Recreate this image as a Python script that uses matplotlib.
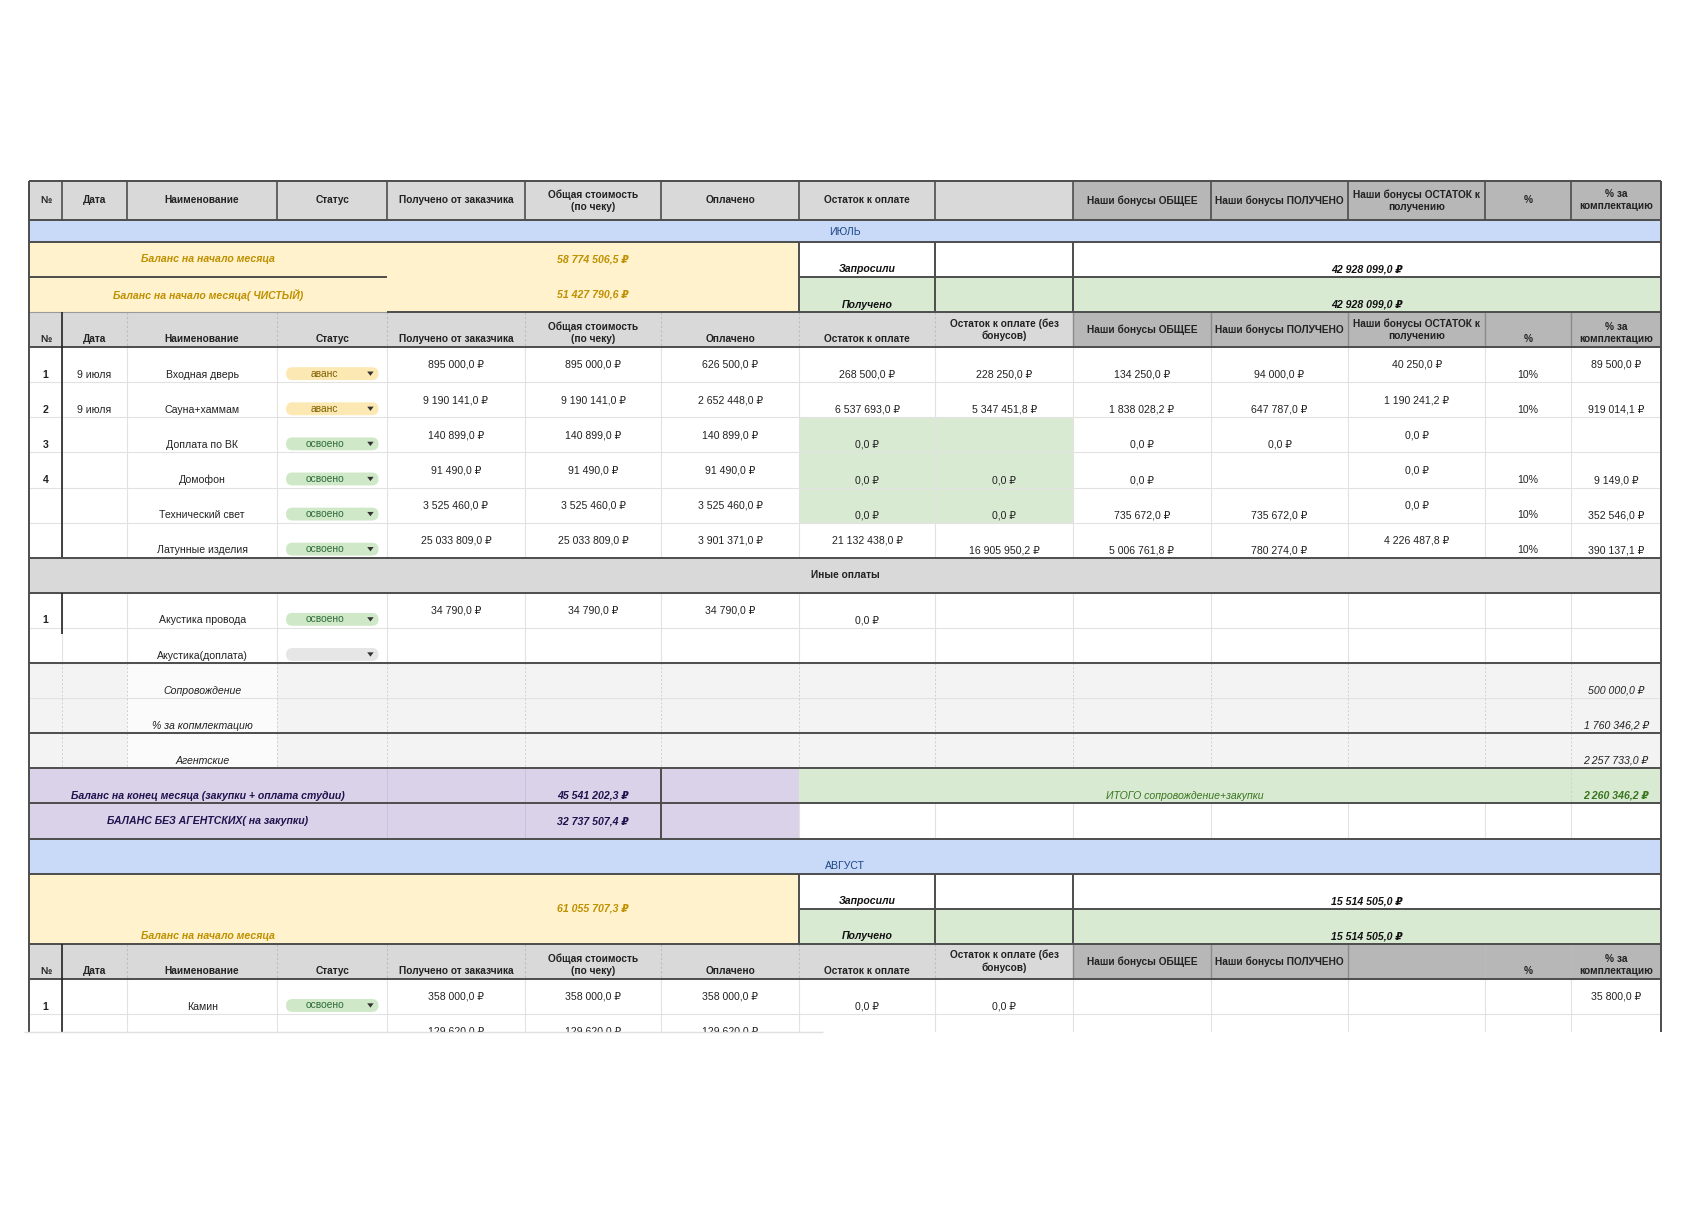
import matplotlib
matplotlib.use('Agg')
import matplotlib.pyplot as plt
from matplotlib.patches import Rectangle, FancyBboxPatch, Polygon

FONT = ['Liberation Sans Narrow', 'Liberation Sans', 'DejaVu Sans']
plt.rcParams['font.family'] = FONT

# ---------------- data ----------------
header_top = ['№', 'Дата', 'Наименование', 'Статус', 'Получено от заказчика',
              'Общая стоимость\n(по чеку)', 'Оплачено', 'Остаток к оплате', '',
              'Наши бонусы ОБЩЕЕ', 'Наши бонусы ПОЛУЧЕНО',
              'Наши бонусы ОСТАТОК к\nполучению', '%', '% за\nкомплектацию']
header_july = ['№', 'Дата', 'Наименование', 'Статус', 'Получено от заказчика',
               'Общая стоимость\n(по чеку)', 'Оплачено', 'Остаток к оплате',
               'Остаток к оплате (без\nбонусов)', 'Наши бонусы ОБЩЕЕ',
               'Наши бонусы ПОЛУЧЕНО', 'Наши бонусы ОСТАТОК к\nполучению', '%',
               '% за\nкомплектацию']
header_aug = ['№', 'Дата', 'Наименование', 'Статус', 'Получено от заказчика',
              'Общая стоимость\n(по чеку)', 'Оплачено', 'Остаток к оплате',
              'Остаток к оплате (без\nбонусов)', 'Наши бонусы ОБЩЕЕ',
              'Наши бонусы ПОЛУЧЕНО', '', '%', '% за\nкомплектацию']

month_names = ['ИЮЛЬ', 'АВГУСТ']

july_start_labels = ['Баланс на начало месяца', 'Баланс на начало месяца( ЧИСТЫЙ)']
july_start_values = [58774506.5, 51427790.6]
july_requested = 42928099.0
july_received_total = 42928099.0

july_nums = ['1', '2', '3', '4', '', '']
july_dates = ['9 июля', '9 июля', '', '', '', '']
july_names = ['Входная дверь', 'Сауна+хаммам', 'Доплата по ВК', 'Домофон',
              'Технический свет', 'Латунные изделия']
july_status = ['аванс', 'аванс', 'освоено', 'освоено', 'освоено', 'освоено']
july_from_client = [895000.0, 9190141.0, 140899.0, 91490.0, 3525460.0, 25033809.0]
july_total_cost = [895000.0, 9190141.0, 140899.0, 91490.0, 3525460.0, 25033809.0]
july_paid = [626500.0, 2652448.0, 140899.0, 91490.0, 3525460.0, 3901371.0]
july_rest = [268500.0, 6537693.0, 0.0, 0.0, 0.0, 21132438.0]
july_rest_nobonus = [228250.0, 5347451.8, None, 0.0, 0.0, 16905950.2]
july_bonus_total = [134250.0, 1838028.2, 0.0, 0.0, 735672.0, 5006761.8]
july_bonus_got = [94000.0, 647787.0, 0.0, None, 735672.0, 780274.0]
july_bonus_rest = [40250.0, 1190241.2, 0.0, 0.0, 0.0, 4226487.8]
july_pct = ['10%', '10%', '', '10%', '10%', '10%']
july_compl = [89500.0, 919014.1, None, 9149.0, 352546.0, 390137.1]

other_title = 'Иные оплаты'
other_nums = ['1', '']
other_names = ['Акустика провода', 'Акустика(доплата)']
other_status = ['освоено', '']
other_from_client = [34790.0, None]
other_total_cost = [34790.0, None]
other_paid = [34790.0, None]
other_rest = [0.0, None]

extra_names = ['Сопровождение', '% за копмлектацию', 'Агентские']
extra_values = [500000.0, 1760346.2, 2257733.0]

end_labels = ['Баланс на конец месяца (закупки + оплата студии)',
              'БАЛАНС БЕЗ АГЕНТСКИХ( на закупки)']
end_values = [45541202.3, 32737507.4]
total_label = 'ИТОГО сопровождение+закупки'
total_value = 2260346.2

aug_start_label = 'Баланс на начало месяца'
aug_start_value = 61055707.3
aug_requested = 15514505.0
aug_received_total = 15514505.0

aug_nums = ['1', '']
aug_names = ['Камин', '']
aug_status = ['освоено', '']
aug_from_client = [358000.0, 129620.0]
aug_total_cost = [358000.0, 129620.0]
aug_paid = [358000.0, 129620.0]
aug_rest = [0.0, None]
aug_rest_nobonus = [0.0, None]
aug_compl = [35800.0, None]

# ---------------- style / layout ----------------
W, H = 1568, 1133
X = [27, 58, 118, 258, 360, 488, 615, 743, 870, 998, 1126, 1254, 1381, 1461, 1545]
RH = 32.65
Y0 = 225


def ry(r):
    return Y0 + RH * r


LIGHT = '#d9d9d9'
DARK = '#b7b7b7'
YELLOW = '#fff2cc'
BLUE = '#c9daf8'
GREEN = '#d9ead3'
PURPLE = '#d9d2e9'
SHADE = '#f3f3f3'
GRID = '#e2e2e2'
THICK = '#4d4d4d'
GOLD = '#bf9000'
NAVY = '#1c4587'
DPURPLE = '#20124d'
DGREEN = '#38761d'
FS = 7.6
HFS = 7.3

fig = plt.figure(figsize=(16.86, 12.18), dpi=100)
ax = fig.add_axes([0, 0, 1, 1])
ax.set_xlim(0, W)
ax.set_ylim(H, 0)
ax.axis('off')


def fmt(v):
    if v is None:
        return ''
    s = f'{v:,.1f}'.replace(',', ' ').replace('.', ',')
    return s + ' ₽'


def rect(x0, y0, x1, y1, color, z=0):
    ax.add_patch(Rectangle((x0, y0), x1 - x0, y1 - y0, facecolor=color,
                           edgecolor='none', zorder=z))


def hline(y, x0=X[0], x1=X[-1], color=THICK, lw=1.4, ls='-', z=3):
    ax.plot([x0, x1], [y, y], color=color, lw=lw, ls=ls, zorder=z,
            solid_capstyle='butt')


def vline(x, y0, y1, color=THICK, lw=1.4, ls='-', z=3):
    ax.plot([x, x], [y0, y1], color=color, lw=lw, ls=ls, zorder=z,
            solid_capstyle='butt')


def txt(x, y, s, size=FS, weight='normal', style='normal', color='#222222',
        va='center', ha='center', z=5):
    ax.text(x, y, s, fontsize=size, fontweight=weight, fontstyle=style,
            color=color, va=va, ha=ha, zorder=z, linespacing=1.25)


def cx(c):
    return (X[c] + X[c + 1]) / 2


LEFT_C = (X[0] + X[4]) / 2


def cell(c, top, bot, s, pos='b', **kw):
    if s == '' or s is None:
        return
    y = top + 16.5 if pos == 't' else bot - 7
    txt(cx(c), y, s, **kw)


def pill(top, bot, status):
    yc = bot - 8
    if status == 'аванс':
        bg, fg = '#fce8b2', '#7f6000'
    elif status == 'освоено':
        bg, fg = '#cfe8c8', '#2e6b3a'
    else:
        bg, fg = '#e6e6e6', '#444444'
    ax.add_patch(FancyBboxPatch((266, yc - 6), 86, 12,
                                boxstyle='round,pad=0,rounding_size=6',
                                facecolor=bg, edgecolor='none', zorder=4))
    if status:
        txt(302, yc, status, size=7.4, color=fg)
    ax.add_patch(Polygon([[341.5, yc - 2], [347.5, yc - 2], [344.5, yc + 2]],
                         closed=True, facecolor='#333333', edgecolor='none',
                         zorder=5))


def grid_rows(r0, r1):
    for r in range(r0, r1 + 1):
        hline(ry(r), color=GRID, lw=0.8, z=1)
    for x in X[1:-1]:
        vline(x, ry(r0), ry(r1), color=GRID, lw=0.8, z=1)


def header(top, bot, labels, valign, dark_from):
    for c in range(14):
        rect(X[c], top, X[c + 1], bot, LIGHT if c < dark_from else DARK, z=1)
    for c, lab in enumerate(labels):
        if not lab:
            continue
        if valign[c] == 'c':
            txt(cx(c), (top + bot) / 2, lab, size=HFS, weight='bold')
        else:
            txt(cx(c), bot - 3, lab, size=HFS, weight='bold', va='bottom')


# ---------------- top header ----------------
header(168, 205, header_top, ['c'] * 14, 9)
for x in X:
    vline(x, 168, 205, lw=1.2)
hline(168)
hline(205)

# ---------------- July band ----------------
rect(X[0], 205, X[-1], 225, BLUE, z=1)
txt((X[0] + X[-1]) / 2, 216, month_names[0], size=FS, color=NAVY)
hline(225)

# balance rows
rect(X[0], ry(0), X[7], ry(2), YELLOW, z=1)
rect(X[7], ry(1), X[-1], ry(2), GREEN, z=1)
for i in range(2):
    yc = (ry(i) + ry(i + 1)) / 2
    txt(LEFT_C, yc, july_start_labels[i], weight='bold', style='italic',
        color=GOLD)
    txt(cx(5), yc, fmt(july_start_values[i]), weight='bold', style='italic',
        color=GOLD)
for i, (lab, val) in enumerate([('Запросили', july_requested),
                                ('Получено', july_received_total)]):
    yb = ry(i + 1) - 7
    txt(cx(7), yb, lab, weight='bold', style='italic', color='#111111')
    txt((X[9] + X[-1]) / 2, yb, fmt(val), weight='bold', style='italic',
        color='#111111')
hline(ry(1), X[0], X[4])
hline(ry(1), X[7], X[-1])
hline(ry(2), X[0], X[4], color='#9a9a9a', lw=0.8)
hline(ry(2), X[4], X[-1])
for x in (X[7], X[8], X[9]):
    vline(x, ry(0), ry(2))

# July column header
header(ry(2), ry(3), header_july,
       ['b'] * 8 + ['c', 'c', 'c', 'c', 'b', 'b'], 9)
for x in X[2:-1]:
    vline(x, ry(2), ry(3), color='#bdbdbd', lw=0.8, ls=(0, (2, 2)), z=2)
for x in X[9:-1]:
    vline(x, ry(2), ry(3), color='#8c8c8c', lw=1.0, z=2)
hline(ry(3))

# July rows
grid_rows(3, 9)
rect(X[7], ry(5), X[9], ry(8), GREEN, z=0.5)
cols_num = [july_from_client, july_total_cost, july_paid, july_rest,
            july_rest_nobonus, july_bonus_total, july_bonus_got,
            july_bonus_rest]
pos_num = [
    ['t', 't', 't', 'b', 'b', 'b', 'b', 't'],
    ['t', 't', 't', 'b', 'b', 'b', 'b', 't'],
    ['t', 't', 't', 'b', 'b', 'b', 'b', 't'],
    ['t', 't', 't', 'b', 'b', 'b', 'b', 't'],
    ['t', 't', 't', 'b', 'b', 'b', 'b', 't'],
    ['t', 't', 't', 't', 'b', 'b', 'b', 't'],
]
compl_pos = ['t', 'b', 'b', 'b', 'b', 'b']
for i in range(6):
    top, bot = ry(3 + i), ry(4 + i)
    cell(0, top, bot, july_nums[i], weight='bold')
    cell(1, top, bot, july_dates[i])
    cell(2, top, bot, july_names[i])
    pill(top, bot, july_status[i])
    for k, arr in enumerate(cols_num):
        cell(4 + k, top, bot, fmt(arr[i]), pos=pos_num[i][k])
    cell(12, top, bot, july_pct[i])
    cell(13, top, bot, fmt(july_compl[i]), pos=compl_pos[i])
vline(X[1], ry(2), ry(9), color='#222222', lw=1.2)

# other payments band
rect(X[0], ry(9), X[-1], ry(10), LIGHT, z=1)
txt((X[0] + X[-1]) / 2, (ry(9) + ry(10)) / 2, other_title, size=HFS,
    weight='bold')
hline(ry(9))
hline(ry(10))

grid_rows(10, 12)
for i in range(2):
    top, bot = ry(10 + i), ry(11 + i)
    cell(0, top, bot, other_nums[i], weight='bold')
    cell(2, top, bot, other_names[i])
    pill(top, bot, other_status[i])
    cell(4, top, bot, fmt(other_from_client[i]), pos='t')
    cell(5, top, bot, fmt(other_total_cost[i]), pos='t')
    cell(6, top, bot, fmt(other_paid[i]), pos='t')
    cell(7, top, bot, fmt(other_rest[i]), pos='b')
vline(X[1], ry(10), ry(11) + 6, color='#222222', lw=1.2)
hline(ry(12))

# extra rows (shaded)
rect(X[0], ry(12), X[-1], ry(15), SHADE, z=0.5)
rect(X[2], ry(12), X[3], ry(15), '#fbfbfb', z=0.6)
for r in range(12, 16):
    hline(ry(r), color=GRID, lw=0.8, z=1)
for x in X[1:-1]:
    vline(x, ry(12), ry(15), color='#cfcfcf', lw=0.7, ls=(0, (2, 2)), z=1)
for i in range(3):
    top, bot = ry(12 + i), ry(13 + i)
    cell(2, top, bot, extra_names[i], style='italic')
    cell(13, top, bot, fmt(extra_values[i]), style='italic')
hline(ry(14))
hline(ry(15))

# end of month
rect(X[0], ry(15), X[7], ry(17), PURPLE, z=1)
rect(X[7], ry(15), X[-1], ry(16), GREEN, z=1)
for x in X[7:-1]:
    vline(x, ry(16), ry(17), color=GRID, lw=0.8, z=1)
vline(X[13], ry(15), ry(16), color='#c8d8c2', lw=0.8, ls=(0, (2, 2)), z=1.5)
for x in (X[4], X[5]):
    vline(x, ry(15), ry(17), color='#cbc3dd', lw=0.8, z=1.5)
txt(LEFT_C, ry(16) - 7, end_labels[0], weight='bold', style='italic',
    color=DPURPLE)
txt(cx(5), ry(16) - 7, fmt(end_values[0]), weight='bold', style='italic',
    color=DPURPLE)
txt(LEFT_C, (ry(16) + ry(17)) / 2, end_labels[1], weight='bold',
    style='italic', color=DPURPLE)
txt(cx(5), (ry(16) + ry(17)) / 2, fmt(end_values[1]), weight='bold',
    style='italic', color=DPURPLE)
txt((X[7] + X[13]) / 2, ry(16) - 7, total_label, style='italic',
    color=DGREEN)
txt(cx(13), ry(16) - 7, fmt(total_value), weight='bold', style='italic',
    color=DGREEN)
vline(X[6], ry(15), ry(17))
hline(ry(16))
hline(ry(17))

# ---------------- August ----------------
rect(X[0], ry(17), X[-1], ry(18), BLUE, z=1)
txt((X[0] + X[-1]) / 2, ry(18) - 7, month_names[1], size=FS, color=NAVY)
hline(ry(18))

rect(X[0], ry(18), X[7], ry(20), YELLOW, z=1)
rect(X[7], ry(19), X[-1], ry(20), GREEN, z=1)
txt(cx(5), ry(19), fmt(aug_start_value), weight='bold', style='italic',
    color=GOLD)
txt(LEFT_C, ry(20) - 7, aug_start_label, weight='bold', style='italic',
    color=GOLD)
for i, (lab, val) in enumerate([('Запросили', aug_requested),
                                ('Получено', aug_received_total)]):
    yb = ry(19 + i) - 7
    txt(cx(7), yb, lab, weight='bold', style='italic', color='#111111')
    txt((X[9] + X[-1]) / 2, yb, fmt(val), weight='bold', style='italic',
        color='#111111')
hline(ry(19), X[7], X[-1])
for x in (X[7], X[8], X[9]):
    vline(x, ry(18), ry(20))
hline(ry(20))

header(ry(20), ry(21), header_aug,
       ['b'] * 8 + ['c', 'c', 'c', 'c', 'b', 'b'], 9)
for x in X[2:-1]:
    vline(x, ry(20), ry(21), color='#bdbdbd', lw=0.8, ls=(0, (2, 2)), z=2)
for x in X[9:12]:
    vline(x, ry(20), ry(21), color='#8c8c8c', lw=1.0, z=2)
hline(ry(21))

grid_rows(21, 23)
for i in range(2):
    top, bot = ry(21 + i), ry(22 + i)
    cell(0, top, bot, aug_nums[i], weight='bold')
    cell(2, top, bot, aug_names[i])
    if aug_status[i]:
        pill(top, bot, aug_status[i])
    cell(4, top, bot, fmt(aug_from_client[i]), pos='t')
    cell(5, top, bot, fmt(aug_total_cost[i]), pos='t')
    cell(6, top, bot, fmt(aug_paid[i]), pos='t')
    cell(7, top, bot, fmt(aug_rest[i]), pos='b')
    cell(8, top, bot, fmt(aug_rest_nobonus[i]), pos='b')
    cell(13, top, bot, fmt(aug_compl[i]), pos='t')
vline(X[1], ry(20), ry(23), color='#222222', lw=1.2)

# outer vertical borders
vline(X[0], 168, 960, lw=1.4)
vline(X[-1], 168, 960, lw=1.4)

# truncated bottom of the screenshot
rect(0, 960, W, H, 'white', z=20)
hline(960, 22, 765, color='#e0e0e0', lw=1.0, z=21)

fig.savefig('out.png', dpi=100, facecolor='white')
